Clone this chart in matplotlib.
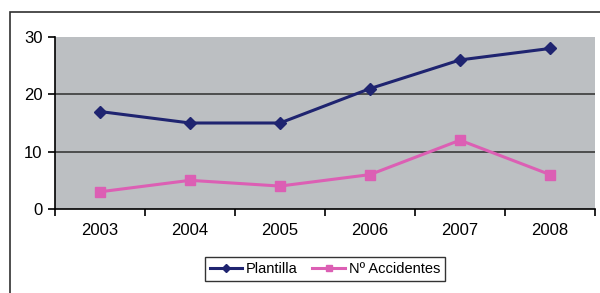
import matplotlib
matplotlib.use("Agg")
import matplotlib.pyplot as plt
from matplotlib.patches import Rectangle
import numpy as np

years = ["2003", "2004", "2005", "2006", "2007", "2008"]
plantilla = [17, 15, 15, 21, 26, 28]
accidentes = [3, 5, 4, 6, 12, 6]

plt.rcParams['font.family'] = ['Liberation Sans', 'DejaVu Sans']

fig = plt.figure(figsize=(6, 2.93), dpi=100)
fig.patch.set_facecolor('white')
fig.add_artist(Rectangle((10/600, -0.1), 1.0, (293-12)/293 + 0.1, transform=fig.transFigure,
                         fill=False, edgecolor='#303030', linewidth=1.2))

ax = fig.add_axes([55/600, (293-209)/293, 540/600, 172/293])
ax.set_facecolor('#bcbfc2')
x = np.arange(len(years))
for y in [10, 20]:
    ax.axhline(y, color='#3a3a3a', linewidth=1.2, zorder=1)
ax.plot(x, plantilla, color='#1f2470', marker='D', markersize=6.5, linewidth=2.2,
        label='Plantilla', zorder=3)
ax.plot(x, accidentes, color='#dc5fb4', marker='s', markersize=6.5, linewidth=2.2,
        label='Nº Accidentes', zorder=3)

ax.set_xlim(-0.5, len(years) - 0.5)
ax.set_ylim(0, 30)
ax.set_yticks([0, 10, 20, 30])
ax.set_xticks(x)
ax.set_xticklabels(years)
ax.set_xticks(np.arange(-0.5, len(years) + 0.5, 1), minor=True)
ax.tick_params(axis='x', which='major', length=0, labelsize=12, pad=10)
ax.tick_params(axis='x', which='minor', length=5, width=1.2, direction='out')
ax.tick_params(axis='y', length=5, width=1.2, labelsize=12, pad=4)
for s in ['top', 'right']:
    ax.spines[s].set_visible(False)
ax.spines['left'].set_linewidth(1.2)
ax.spines['bottom'].set_linewidth(1.2)

leg = fig.legend(loc='center', bbox_to_anchor=(325/600, (293-269)/293), ncol=2,
                 fontsize=10.5, frameon=True, fancybox=False, edgecolor='black',
                 handlelength=2.2, handletextpad=0.3, columnspacing=1.0,
                 borderpad=0.35, markerscale=0.6)
leg.get_frame().set_linewidth(1.0)

fig.savefig('out.png', dpi=100)
